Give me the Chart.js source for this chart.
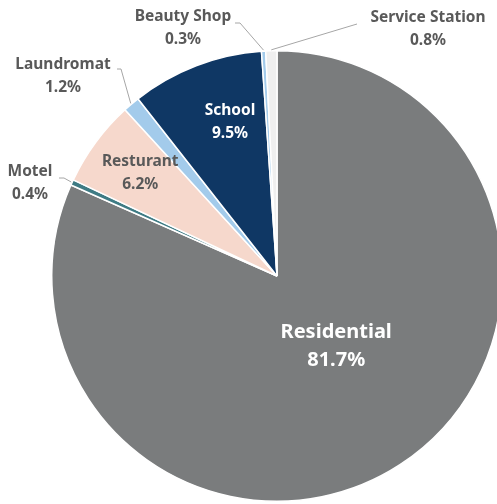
<!DOCTYPE html>
<html>
<head>
<meta charset="utf-8">
<script src="https://cdn.jsdelivr.net/npm/chart.js@4.4.1/dist/chart.umd.min.js"></script>
<style>
  html, body { margin: 0; padding: 0; background: #fff; overflow: hidden; }
  #wrap { width: 510px; height: 504px; }
</style>
</head>
<body>
<div id="wrap"><canvas id="pie" width="510" height="504"></canvas></div>
<script>
// Share of water use by customer type (clockwise from 12 o'clock)
const categories = ["Residential", "Motel", "Resturant", "Laundromat", "School", "Beauty Shop", "Service Station"];
const shares = [81.7, 0.4, 6.2, 1.2, 9.5, 0.3, 0.8];
const sliceColors = ["#7a7c7d", "#3f7b84", "#f6d8cc", "#a3cbeb", "#0f3764", "#a3cbeb", "#efefef"];

const LABEL_FONT = "bold 15.5px 'Noto Sans', sans-serif";
const BIG_FONT = "bold 20px 'Noto Sans', sans-serif";
const GREY_TEXT = "#595959";

// Inside labels sit at a fraction of the radius along the slice bisector, nudged by dx/dy
const insideLabels = {
    "Residential": { frac: 0.40, dx: 10, dy: -5, color: "#fff", font: BIG_FONT, gap: 28 },
    "Resturant": { frac: 0.76, dx: 1, dy: -1, color: GREY_TEXT, font: LABEL_FONT, gap: 23 },
    "School": { frac: 0.68, dx: 8, dy: -11, color: "#fff", font: LABEL_FONT, gap: 23 },
};
// Outside labels: text centre plus the elbow where the leader line leaves the text
const outsideLabels = {
    "Beauty Shop": { x: 183, y: 17, line: [[235, 23], [240, 23]] },
    "Service Station": { x: 428, y: 18, line: [[357, 24]] },
    "Laundromat": { x: 63, y: 65, line: [[117, 69], [121, 69]] },
    "Motel": { x: 30, y: 172, line: [[59, 178], [64, 178]] },
};

const pieLabels = {
    id: "pieLabels",
    afterDatasetsDraw(chart) {
        const ctx = chart.ctx;
        const arcs = chart.getDatasetMeta(0).data;
        ctx.save();
        ctx.textAlign = "center";
        ctx.textBaseline = "middle";
        arcs.forEach((arc, i) => {
            const name = categories[i];
            const pct = shares[i].toFixed(1) + "%";
            const { x, y, startAngle, endAngle, outerRadius } = arc.getProps(["x", "y", "startAngle", "endAngle", "outerRadius"]);
            const mid = (startAngle + endAngle) / 2;
            const inner = insideLabels[name];
            if (inner) {
                const cx = x + Math.cos(mid) * outerRadius * inner.frac + inner.dx;
                const cy = y + Math.sin(mid) * outerRadius * inner.frac + inner.dy;
                ctx.font = inner.font;
                ctx.fillStyle = inner.color;
                ctx.fillText(name, cx, cy - inner.gap / 2);
                ctx.fillText(pct, cx, cy + inner.gap / 2);
                return;
            }
            const out = outsideLabels[name];
            if (!out) return;
            // leader line to the rim of the slice
            ctx.strokeStyle = "#a6a6a6";
            ctx.lineWidth = 1;
            ctx.beginPath();
            out.line.forEach(([px, py], k) => (k ? ctx.lineTo(px, py) : ctx.moveTo(px, py)));
            ctx.lineTo(x + Math.cos(mid) * (outerRadius + 1), y + Math.sin(mid) * (outerRadius + 1));
            ctx.stroke();
            ctx.font = LABEL_FONT;
            ctx.fillStyle = GREY_TEXT;
            ctx.fillText(name, out.x, out.y);
            ctx.fillText(pct, out.x, out.y + 23);
        });
        ctx.restore();
    },
};

new Chart(document.getElementById("pie"), {
    type: "pie",
    data: {
        labels: categories,
        datasets: [{
            data: shares,
            backgroundColor: sliceColors,
            borderColor: "#ffffff",
            borderWidth: 1.5,
        }],
    },
    options: {
        responsive: false,
        animation: false,
        layout: { padding: { left: 51, right: 7, top: 50, bottom: 2 } },
        plugins: {
            legend: { display: false },
            tooltip: { enabled: false },
        },
    },
    plugins: [pieLabels],
});
</script>
</body>
</html>
